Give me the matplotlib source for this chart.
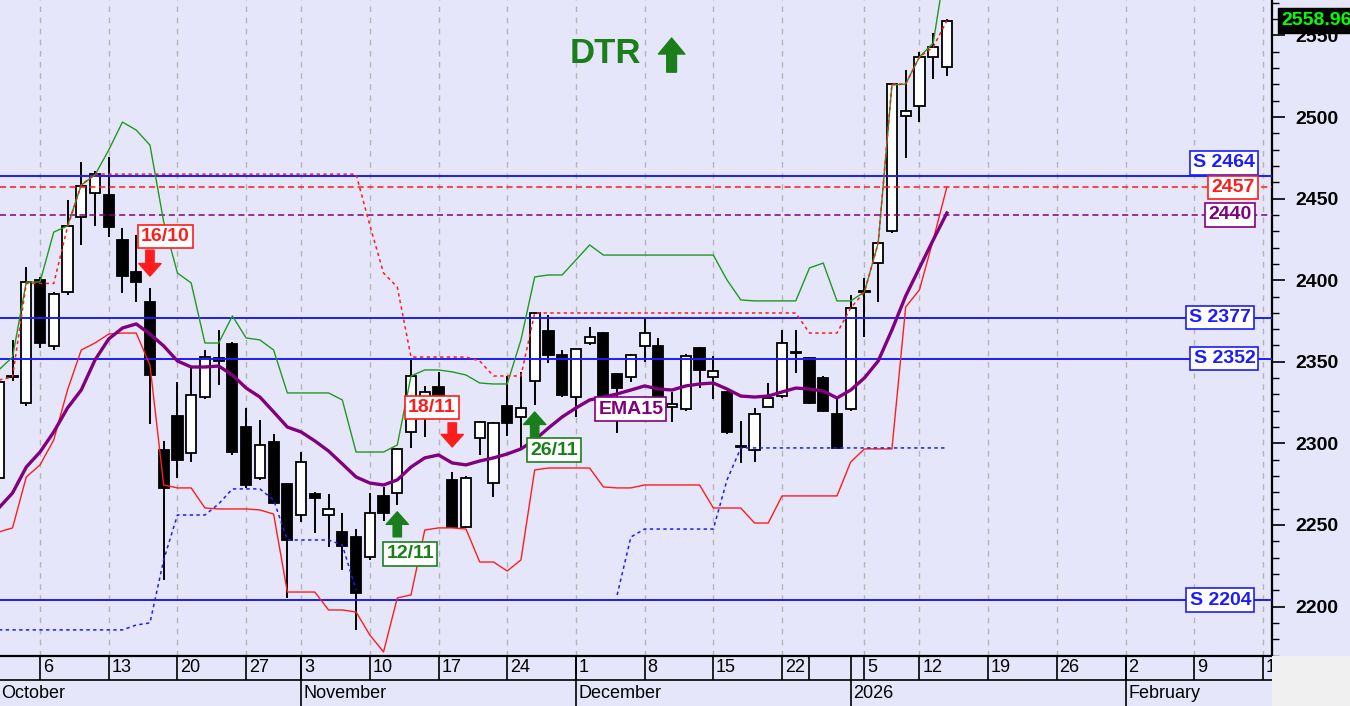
import matplotlib
matplotlib.use("Agg")
import matplotlib.pyplot as plt
import numpy as np
from matplotlib.patches import Rectangle
from matplotlib.ticker import MultipleLocator

plt.rcParams['font.family'] = ['Liberation Sans', 'DejaVu Sans']

BG = "#e6e6fa"
BLUE = "#1c1cff"
RED = "#ff1c1c"
GREEN = "#1f9a1f"
DKGREEN = "#1a7f1a"
PURPLE = "#800080"

# daily candles, 1 Oct 2025 .. 14 Jan 2026 (trading days)
opens = [2278.8, 2341.5, 2324.8, 2400.1, 2359.7, 2392.8, 2438.7, 2453.4, 2452.2, 2424.6,
         2405.0, 2386.6, 2296.0, 2316.8, 2294.1, 2328.4, 2352.3, 2360.9, 2310.0, 2278.8,
         2300.9, 2275.1, 2256.1, 2269.0, 2256.1, 2245.7, 2242.6, 2230.4, 2267.8, 2269.6,
         2307.0, 2318.6, 2334.6, 2277.6, 2248.8, 2303.3, 2275.7, 2322.9, 2316.2, 2338.2,
         2368.9, 2354.2, 2328.4, 2361.5, 2367.6, 2342.5, 2340.7, 2359.7, 2359.7, 2322.3,
         2321.1, 2358.5, 2340.7, 2331.5, 2298.0, 2296.0, 2322.3, 2329.0, 2356.0, 2352.3,
         2340.1, 2318.0, 2321.1, 2393.0, 2410.5, 2430.1, 2500.6, 2506.7, 2536.8, 2530.6]
highs = [2339.0, 2363.4, 2408.1, 2402.0, 2393.0, 2449.1, 2472.4, 2467.0, 2475.5, 2432.0,
         2427.7, 2395.2, 2301.5, 2337.6, 2346.2, 2357.2, 2369.5, 2362.0, 2321.7, 2314.3,
         2305.8, 2276.0, 2294.7, 2270.0, 2269.0, 2257.4, 2247.5, 2269.6, 2273.3, 2297.0,
         2351.1, 2335.2, 2343.7, 2282.5, 2280.0, 2314.0, 2313.0, 2341.3, 2343.7, 2380.0,
         2378.7, 2357.2, 2358.0, 2371.3, 2368.0, 2343.0, 2355.0, 2376.8, 2364.6, 2331.5,
         2355.0, 2359.0, 2353.6, 2332.0, 2313.7, 2321.7, 2337.0, 2369.5, 2369.5, 2353.0,
         2341.0, 2327.8, 2390.9, 2401.3, 2423.0, 2521.0, 2528.8, 2539.8, 2551.5, 2560.0]
lows = [2276.0, 2338.5, 2323.0, 2358.5, 2357.2, 2391.0, 2421.6, 2433.2, 2426.5, 2392.2,
        2386.6, 2311.9, 2216.3, 2278.8, 2288.6, 2327.0, 2335.8, 2293.0, 2272.7, 2277.6,
        2263.0, 2205.3, 2251.8, 2245.1, 2236.5, 2222.4, 2185.7, 2228.6, 2252.5, 2262.3,
        2297.2, 2303.9, 2321.7, 2248.0, 2248.0, 2292.9, 2267.2, 2304.5, 2296.0, 2323.5,
        2349.3, 2328.4, 2316.2, 2360.3, 2325.0, 2306.4, 2337.6, 2349.9, 2327.8, 2313.1,
        2320.0, 2334.0, 2327.2, 2306.0, 2288.0, 2288.6, 2322.0, 2328.0, 2343.1, 2324.0,
        2319.0, 2297.0, 2320.0, 2365.2, 2386.6, 2428.9, 2474.9, 2496.9, 2523.3, 2525.1]
closes = [2337.6, 2340.5, 2398.9, 2361.5, 2391.5, 2433.2, 2457.7, 2465.1, 2432.6, 2402.6,
          2398.9, 2341.9, 2272.7, 2289.8, 2329.7, 2352.9, 2350.5, 2294.7, 2274.5, 2299.0,
          2263.5, 2240.8, 2288.6, 2266.5, 2259.8, 2237.1, 2208.3, 2257.4, 2257.4, 2296.6,
          2341.3, 2331.5, 2328.4, 2248.8, 2278.8, 2313.1, 2312.5, 2312.5, 2321.7, 2379.9,
          2354.2, 2329.7, 2357.8, 2365.2, 2326.6, 2334.0, 2354.2, 2367.6, 2328.4, 2324.1,
          2353.6, 2345.0, 2344.4, 2307.0, 2297.6, 2318.0, 2327.8, 2361.5, 2355.4, 2324.8,
          2319.9, 2297.2, 2383.0, 2392.6, 2422.8, 2520.2, 2503.7, 2536.8, 2542.9, 2558.96]

ema15 = [2260.4, 2269.6, 2285.5, 2294.7, 2307.0, 2321.7, 2332.7, 2351.1, 2364.0, 2370.7,
         2373.2, 2367.0, 2359.7, 2350.5, 2346.8, 2346.8, 2347.4, 2341.9, 2333.9, 2328.4,
         2319.3, 2310.0, 2307.0, 2301.5, 2295.3, 2287.4, 2279.4, 2275.7, 2274.5, 2277.6,
         2285.5, 2291.1, 2292.9, 2288.0, 2286.8, 2289.2, 2291.1, 2293.5, 2296.6, 2302.1,
         2309.4, 2316.2, 2321.7, 2326.6, 2328.4, 2330.3, 2332.7, 2335.2, 2333.3, 2332.7,
         2335.2, 2336.4, 2337.0, 2333.3, 2329.0, 2328.4, 2329.0, 2331.5, 2333.9, 2333.3,
         2332.1, 2327.8, 2332.7, 2340.1, 2350.5, 2369.5, 2390.3, 2407.5, 2424.6, 2441.2]
upper_band = [2345.0, 2352.9, 2398.9, 2398.9, 2429.5, 2433.2, 2458.3, 2464.5, 2479.8, 2496.9,
              2492.0, 2482.8, 2435.7, 2404.4, 2398.3, 2361.5, 2361.5, 2378.1, 2364.6, 2363.4,
              2357.2, 2330.9, 2330.9, 2330.9, 2330.9, 2326.6, 2294.7, 2294.7, 2294.7, 2299.0,
              2341.3, 2345.0, 2345.0, 2343.8, 2341.9, 2337.0, 2336.4, 2336.4, 2363.4, 2402.0,
              2403.2, 2403.2, 2412.4, 2421.6, 2415.4, 2415.4, 2415.4, 2415.4, 2415.4, 2415.4,
              2415.4, 2415.4, 2415.4, 2400.1, 2387.9, 2387.3, 2387.3, 2387.3, 2387.3, 2407.5,
              2410.5, 2387.3, 2387.3, 2392.8, 2422.8, 2519.6, 2520.2, 2536.8, 2545.3, 2598.0]
high_close = [2338.8, 2340.7, 2398.0, 2398.0, 2398.0, 2432.6, 2458.3, 2465.0, 2465.0, 2465.0,
              2465.0, 2465.0, 2465.0, 2465.0, 2465.0, 2465.0, 2465.0, 2465.0, 2465.0, 2465.0,
              2465.0, 2465.0, 2465.0, 2465.0, 2465.0, 2465.0, 2465.0, 2433.8, 2404.4, 2395.8,
              2352.9, 2352.9, 2352.9, 2352.9, 2352.9, 2350.5, 2341.3, 2341.3, 2341.3, 2379.9,
              2379.9, 2379.9, 2379.9, 2379.9, 2379.9, 2379.9, 2379.9, 2379.9, 2379.9, 2379.9,
              2379.9, 2379.9, 2379.9, 2379.9, 2379.9, 2379.9, 2379.9, 2379.9, 2379.9, 2367.6,
              2367.6, 2367.6, 2383.0, 2392.8, 2422.8, 2520.2, 2520.2, 2536.8, 2542.9, 2558.96]
trail_stop = [2245.7, 2248.2, 2279.4, 2286.8, 2302.1, 2332.7, 2357.2, 2361.5, 2367.0, 2367.6,
              2367.6, 2348.0, 2274.5, 2272.7, 2272.7, 2260.4, 2259.8, 2259.8, 2259.8, 2259.2,
              2256.7, 2208.9, 2208.9, 2208.9, 2197.9, 2197.9, 2196.7, 2182.6, 2172.2, 2205.3,
              2207.1, 2246.9, 2248.2, 2248.2, 2247.5, 2227.3, 2227.3, 2221.8, 2228.6, 2283.7,
              2284.9, 2284.9, 2284.9, 2284.9, 2273.3, 2272.7, 2272.7, 2274.5, 2274.5, 2274.5,
              2274.5, 2274.5, 2260.4, 2260.4, 2260.4, 2251.2, 2251.2, 2267.8, 2267.8, 2267.8,
              2267.8, 2267.8, 2288.6, 2296.6, 2296.6, 2296.6, 2383.6, 2394.0, 2424.6, 2457.1]
nan = np.nan
low_band = [2185.7, 2185.7, 2185.7, 2185.7, 2185.7, 2185.7, 2185.7, 2185.7, 2185.7, 2185.7,
            2188.7, 2190.0, 2228.6, 2256.1, 2256.1, 2256.1, 2262.9, 2272.1, 2272.1, 2272.1,
            2265.3, 2240.8, 2240.8, 2240.8, 2240.8, 2237.7, 2210.2, nan, nan, nan,
            nan, nan, nan, nan, nan, nan, nan, nan, nan, nan,
            nan, nan, nan, nan, nan, 2207.1, 2242.6, 2247.5, 2247.5, 2247.5,
            2247.5, 2247.5, 2247.5, 2277.6, 2297.2, 2297.2, 2297.2, 2297.2, 2297.2, 2297.2,
            2297.2, 2297.2, 2297.2, 2297.2, 2297.2, 2297.2, 2297.2, 2297.2, 2297.2, 2297.2]

support_levels = [2464, 2377, 2352, 2204]
stop_level = 2457
ema_level = 2440

signal_idx = [11, 33, 29, 39]
signal_text = ["16/10", "18/11", "12/11", "26/11"]
signal_side = ["sell", "sell", "buy", "buy"]

week_idx = [3, 8, 13, 18, 22, 27, 32, 37, 42, 47, 52, 57, 59, 63, 67, 72, 77, 82, 87, 92]
week_lbl = ["6", "13", "20", "27", "3", "10", "17", "24", "1", "8", "15", "22", "",
            "5", "12", "19", "26", "2", "9", "16"]
month_idx = [0, 22, 42, 62, 82]
month_lbl = ["October", "November", "December", "2026", "February"]

# ---------------------------------------------------------------- layout
W, H = 1350, 706
AX_R = 1272 / W
AX_B = 50 / H
XL = (0.087, 92.66)
YL = (2169.7, 2571.7)

fig = plt.figure(figsize=(W / 100, H / 100), dpi=100)
fig.patch.set_facecolor(BG)
fig.patches.append(Rectangle((AX_R, 0), 1 - AX_R, AX_B, transform=fig.transFigure,
                             fc="#f0f0f0", ec="none"))

ax = fig.add_axes([0, AX_B, AX_R, 1 - AX_B])
ax.set_facecolor(BG)
ax.set_xlim(*XL)
ax.set_ylim(*YL)

idx = np.arange(len(closes))
o, h, l, c = map(np.array, (opens, highs, lows, closes))

# weekly grid
for wi, lb in zip(week_idx, week_lbl):
    if lb:
        ax.axvline(wi, color="#b4b4b4", lw=1.0, dashes=(4, 4), zorder=1)

# candles
up = c >= o
ax.vlines(idx, l, h, color="black", lw=1.4, zorder=2)
ax.bar(idx, np.maximum(np.abs(c - o), 0.5), bottom=np.minimum(o, c), width=0.74,
       color=np.where(up, "white", "black"), edgecolor="black", linewidth=1.3, zorder=3)

# horizontal levels
for lev in support_levels:
    ax.axhline(lev, color=BLUE, lw=1.4, zorder=4)
ax.axhline(stop_level, color=RED, lw=1.1, dashes=(4, 2.5), zorder=4)
ax.axhline(ema_level, color=PURPLE, lw=1.1, dashes=(4, 2.5), zorder=4)

# indicators
ax.plot(idx, upper_band, color=GREEN, lw=1.0, zorder=5)
ax.plot(idx, trail_stop, color=RED, lw=1.0, zorder=5)
ax.plot(idx, high_close, color=RED, lw=1.1, dashes=(2.2, 2.2), zorder=5)
ax.plot(idx, low_band, color=BLUE, lw=1.1, dashes=(2.2, 2.2), zorder=5)
ax.plot(idx, ema15, color=PURPLE, lw=2.4, zorder=6)

# level labels on the right
lab_style = dict(fontsize=14, fontweight="bold", ha="center", va="center",
                 textcoords="offset points", zorder=8)
level_labels = [("S 2464", 2464, 89.17, 9.2, BLUE), ("2457", stop_level, 89.8, 0, RED),
                ("2440", ema_level, 89.6, 0, PURPLE), ("S 2377", 2377, 88.9, 0, BLUE),
                ("S 2352", 2352, 89.2, 0, BLUE), ("S 2204", 2204, 88.9, 0, BLUE)]
for txt, lev, xi, dy, col in level_labels:
    ax.annotate(txt, xy=(xi, lev), xytext=(0, dy), color=col,
                bbox=dict(boxstyle="square,pad=0.16", fc="white", ec=col, lw=1.2), **lab_style)

# buy / sell signals
sig_layout = {"16/10": (8.6, 18.7, 11.2, 37.1),
              "18/11": (18.0, 17.3, -14.8, 46.4),
              "12/11": (5.0, 18.0, 9.4, -35.3),
              "26/11": (5.0, 18.7, 13.7, -32.4)}
for si, st, side in zip(signal_idx, signal_text, signal_side):
    gap, length, dx, dy = sig_layout[st]
    col = RED if side == "sell" else DKGREEN
    anchor = h[si] if side == "sell" else l[si]
    sgn = 1 if side == "sell" else -1
    ax.annotate("", xy=(si, anchor), xytext=(0, sgn * (gap + length)),
                textcoords="offset points",
                arrowprops=dict(arrowstyle="simple,head_length=9,head_width=16,tail_width=6",
                                mutation_scale=1, color=col, shrinkA=0, shrinkB=gap),
                zorder=7)
    ax.annotate(st, xy=(si, anchor), xytext=(dx, dy), color=col,
                bbox=dict(boxstyle="square,pad=0.16", fc="white", ec=col, lw=1.2), **lab_style)

ax.annotate("EMA15", xy=(46, ema15[46]), xytext=(0, -13.7), color=PURPLE,
            bbox=dict(boxstyle="square,pad=0.16", fc="white", ec=PURPLE, lw=1.2), **lab_style)

# title signal
ax.text(0.4756, 0.9177, "DTR", transform=ax.transAxes, fontsize=25, fontweight="bold",
        color=DKGREEN, ha="center", va="center", zorder=8)
ax.annotate("", xy=(0.528, 0.942), xytext=(0.528, 0.890), xycoords="axes fraction",
            arrowprops=dict(arrowstyle="simple,head_length=11.5,head_width=19,tail_width=7",
                            mutation_scale=1, color=DKGREEN, shrinkA=0, shrinkB=0), zorder=8)

# right price axis
ax.yaxis.tick_right()
ax.yaxis.set_major_locator(MultipleLocator(50))
ax.yaxis.set_minor_locator(MultipleLocator(10))
ax.tick_params(axis="y", which="major", length=9, width=1.2, pad=8, labelsize=14)
ax.tick_params(axis="y", which="minor", length=5, width=1.0)
for t in ax.get_yticklabels():
    t.set_fontweight("bold")
ax.set_xticks([])
for s in ("left", "top"):
    ax.spines[s].set_visible(False)
ax.spines["right"].set_linewidth(1.6)
ax.spines["bottom"].set_linewidth(1.6)

ax.annotate(f"{closes[-1]:.2f}", xy=(1, closes[-1]), xycoords=("axes fraction", "data"),
            xytext=(7, 0), textcoords="offset points", ha="left", va="center",
            color="#00ff00", fontsize=14, fontweight="bold", annotation_clip=False,
            bbox=dict(boxstyle="square,pad=0.2", fc="black", ec="black"), zorder=9)

# date axis
ax2 = fig.add_axes([0, 0, AX_R, AX_B])
ax2.set_facecolor(BG)
ax2.set_xlim(*XL)
ax2.set_ylim(0, 50)
ax2.set_xticks([])
ax2.set_yticks([])
for s in ax2.spines.values():
    s.set_visible(False)
ax2.axhline(50, color="black", lw=1.6)
ax2.axhline(26, color="black", lw=1.2)
ax2.vlines(week_idx, 26, 50, color="black", lw=1.2)
ax2.vlines(month_idx[1:], 0, 50, color="black", lw=1.2)
for wi, lb in zip(week_idx, week_lbl):
    ax2.text(wi + 0.2, 38, lb, fontsize=13, ha="left", va="center", clip_on=True)
for mi, lb in zip(month_idx, month_lbl):
    ax2.text(mi + 0.2, 13, lb, fontsize=13, ha="left", va="center", clip_on=True)

fig.savefig("out.png", dpi=100, facecolor=BG)
